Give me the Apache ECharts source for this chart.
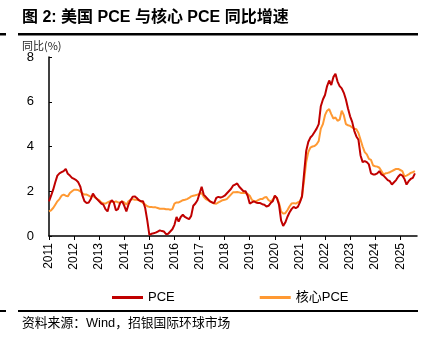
<!DOCTYPE html>
<html><head><meta charset="utf-8">
<script src="https://cdn.jsdelivr.net/npm/echarts@6/dist/echarts.min.js"></script>
<style>html,body{margin:0;padding:0;background:#fff}#c{width:438px;height:342px}</style>
</head><body><div id="c"></div>
<script>
const years = [2011,2012,2013,2014,2015,2016,2017,2018,2019,2020,2021,2022,2023,2024,2025];
const lastMonth2025 = 9; // axis runs to Sep 2025 (data to Aug 2025)
const yTicks = [0,2,4,6,8];
const seriesNames = ['PCE','核心PCE'];
const pce = [
1.55,1.8,2.07,2.4,2.7,2.8,2.85,2.9,3.0,2.78,2.7,2.6,
2.55,2.5,2.4,2.2,1.8,1.55,1.47,1.5,1.65,1.9,1.75,1.65,
1.55,1.45,1.4,1.2,1.1,1.45,1.6,1.5,1.15,1.2,1.47,1.55,
1.35,1.1,1.4,1.6,1.75,1.77,1.7,1.6,1.55,1.55,1.25,0.7,
0.05,0.1,0.12,0.15,0.2,0.25,0.22,0.2,0.08,0.1,0.2,0.3,
0.5,0.85,0.65,0.85,0.95,0.85,0.8,0.75,0.9,1.35,1.45,1.6,
1.9,2.2,1.85,1.75,1.65,1.55,1.5,1.47,1.7,1.75,1.72,1.75,
1.8,1.9,2.0,2.1,2.25,2.3,2.35,2.2,2.1,2.0,2.0,1.8,
1.45,1.5,1.55,1.5,1.47,1.47,1.42,1.4,1.32,1.35,1.47,1.55,
1.8,1.7,1.4,0.7,0.45,0.6,0.85,1.05,1.2,1.3,1.25,1.3,
1.5,1.77,2.8,3.8,4.2,4.4,4.5,4.65,4.8,5.0,5.8,6.1,
6.3,6.7,6.95,6.75,7.1,7.25,6.9,6.7,6.6,6.4,6.1,5.7,
5.35,5.1,4.7,4.45,4.3,3.6,3.3,3.35,3.3,3.2,2.8,2.75,
2.75,2.8,2.9,2.75,2.7,2.6,2.5,2.45,2.3,2.4,2.5,2.65,
2.75,2.7,2.55,2.3,2.45,2.55,2.6,2.8
];
const corePce = [
1.1,1.15,1.25,1.4,1.55,1.65,1.8,1.85,1.8,1.77,1.92,2.0,
2.07,2.07,2.05,2.0,1.9,1.85,1.85,1.8,1.75,1.8,1.72,1.65,
1.6,1.5,1.47,1.45,1.5,1.55,1.55,1.5,1.55,1.5,1.5,1.55,
1.5,1.4,1.55,1.62,1.65,1.62,1.62,1.6,1.55,1.47,1.4,1.33,
1.3,1.3,1.28,1.28,1.25,1.22,1.22,1.22,1.2,1.2,1.17,1.2,
1.45,1.5,1.5,1.55,1.6,1.62,1.65,1.7,1.77,1.8,1.82,1.85,
1.88,1.92,1.75,1.65,1.6,1.55,1.5,1.45,1.44,1.5,1.55,1.6,
1.62,1.65,1.75,1.85,1.95,1.96,1.97,1.95,1.92,1.92,1.92,1.88,
1.8,1.62,1.55,1.55,1.6,1.65,1.65,1.72,1.74,1.6,1.55,1.62,
1.77,1.7,1.47,1.1,1.0,1.02,1.15,1.32,1.45,1.47,1.45,1.5,
1.55,1.77,2.5,3.3,3.75,3.95,4.0,4.02,4.1,4.25,4.8,5.0,
5.4,5.6,5.67,5.45,5.25,5.3,5.15,5.2,5.6,5.4,5.0,4.95,
4.92,4.85,4.8,4.77,4.6,4.3,4.0,3.75,3.65,3.45,3.4,3.15,
3.12,3.1,3.05,2.9,2.75,2.8,2.82,2.85,2.9,2.95,3.0,3.0,
2.95,2.9,2.67,2.7,2.75,2.82,2.85,2.9
];
const months = [];
years.forEach(y => {
  const n = y === years[years.length-1] ? lastMonth2025 : 12;
  for (let m = 1; m <= n; m++) months.push(y + '-' + m);
});
const isJan = (i) => months[i] && months[i].endsWith('-1');

const chart = echarts.init(document.getElementById('c'), null, {renderer:'canvas'});
const cjk = '"Noto Sans CJK SC", sans-serif';
const latinCjk = '"Liberation Sans", "Noto Sans CJK SC", sans-serif';
chart.setOption({
  animation: false,
  backgroundColor: '#fff',
  grid: {left: 49, right: 21, top: 57, bottom: 106},
  legend: {
    left: 107, top: 286, itemGap: 85, itemWidth: 31, itemHeight: 3,
    icon: 'rect',
    textStyle: {fontFamily: latinCjk, fontSize: 13, color: '#000'},
    data: seriesNames
  },
  xAxis: {
    type: 'category', data: months, boundaryGap: false,
    axisLine: {lineStyle: {color: '#000', width: 1.5}},
    axisTick: {show: true, inside: false, length: 4, interval: (i) => isJan(i), lineStyle: {color:'#000'}},
    axisLabel: {
      interval: (i) => isJan(i), rotate: 90, margin: 7,
      formatter: (v) => v.split('-')[0],
      fontFamily: 'Liberation Sans, Arial, sans-serif', fontSize: 12, color: '#000'
    },
    splitLine: {show: false}
  },
  yAxis: {
    type: 'value', min: yTicks[0], max: yTicks[yTicks.length-1], interval: 2,
    axisLine: {show: true, lineStyle: {color: '#000', width: 1.5}},
    axisTick: {show: true, inside: true, length: 3, lineStyle: {color:'#000'}},
    axisLabel: {margin: 15, fontFamily: 'Liberation Sans, Arial, sans-serif', fontSize: 13, color: '#000'},
    splitLine: {show: false}
  },
  series: [
    {name: seriesNames[0], type: 'line', data: pce, showSymbol: false, symbol: 'none',
     lineStyle: {color: '#C00000', width: 2}, itemStyle: {color: '#C00000'}, z: 3},
    {name: seriesNames[1], type: 'line', data: corePce, showSymbol: false, symbol: 'none',
     lineStyle: {color: '#FF9933', width: 2}, itemStyle: {color: '#FF9933'}, z: 2}
  ],
  graphic: [
    {type: 'text', left: 22, top: 10, style: {text: '图 2: 美国 PCE 与核心 PCE 同比增速', fontSize: 16, fontWeight: 'bold', fill: '#000', fontFamily: latinCjk}},
    {type: 'rect', shape: {x: 18, y: 33, width: 400, height: 2.5}, style: {fill: '#000'}},
    {type: 'rect', shape: {x: 0, y: 33, width: 6, height: 2.5}, style: {fill: '#000'}},
    {type: 'text', left: 22, top: 40, style: {text: '同比(%)', fontSize: 11, fill: '#222', fontFamily: cjk}},
    {type: 'rect', shape: {x: 18, y: 310, width: 400, height: 2}, style: {fill: '#000'}},
    {type: 'rect', shape: {x: 0, y: 310, width: 6, height: 2}, style: {fill: '#000'}},
    {type: 'text', left: 22, top: 317, style: {text: '资料来源：Wind，招银国际环球市场', fontSize: 12.8, fill: '#000', fontFamily: latinCjk}}
  ]
});
</script></body></html>
